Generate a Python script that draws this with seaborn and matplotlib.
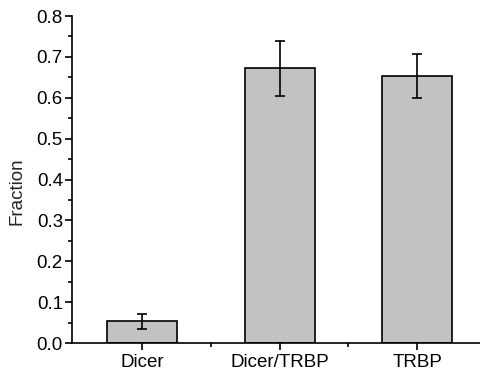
import matplotlib
matplotlib.use("Agg")
import matplotlib.pyplot as plt
import seaborn as sns
import pandas as pd
from matplotlib.ticker import MultipleLocator, FixedLocator

categories = ["Dicer", "Dicer/TRBP", "TRBP"]
fractions = [0.053, 0.672, 0.653]
errors = [0.018, 0.067, 0.053]
yticks = [0.0, 0.1, 0.2, 0.3, 0.4, 0.5, 0.6, 0.7, 0.8]

sns.set_style("ticks")
plt.rcParams["font.family"] = ["Liberation Sans", "DejaVu Sans"]

df = pd.DataFrame({"cat": categories, "frac": fractions})

fig = plt.figure(figsize=(4.81, 3.73), dpi=100)
ax = fig.add_axes([0.1497, 0.0804, 0.8503, 0.8766])
sns.barplot(data=df, x="cat", y="frac", color="#c2c2c2", saturation=1,
            edgecolor="black", linewidth=1.2, width=0.51, errorbar=None, ax=ax)
ax.errorbar(range(len(categories)), fractions, yerr=errors, fmt="none",
            ecolor="black", elinewidth=1.2, capsize=3.5, capthick=1.2)

ax.set_ylim(0, 0.8)
ax.set_xlim(-0.51, 2.465)
ax.set_yticks(yticks)
ax.set_yticklabels([f"{v:.1f}" for v in yticks])
ax.yaxis.set_minor_locator(MultipleLocator(0.05))
ax.xaxis.set_minor_locator(FixedLocator([0.5, 1.5]))
ax.set_xlabel("")
ax.set_ylabel("Fraction", fontsize=13.5)
ax.yaxis.set_label_coords(-0.113, 0.465)
ax.tick_params(axis="both", which="major", direction="out", length=5, width=1.2,
               labelsize=13.5, color="black", labelcolor="black", pad=1.5)
ax.tick_params(axis="x", which="major", pad=3)
ax.tick_params(axis="both", which="minor", direction="out", length=3, width=1.2, color="black")
for s in ["top", "right"]:
    ax.spines[s].set_visible(False)
for s in ["left", "bottom"]:
    ax.spines[s].set_linewidth(1.2)
    ax.spines[s].set_color("black")

fig.savefig("out.png", dpi=100)
